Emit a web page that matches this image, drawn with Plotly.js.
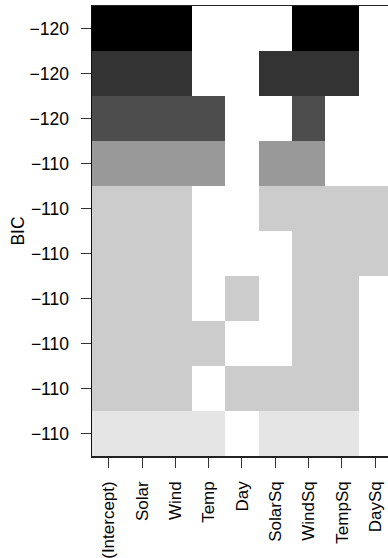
<!DOCTYPE html>
<html>
<head>
<meta charset="utf-8">
<script src="https://cdn.plot.ly/plotly-3.0.1.min.js"></script>
<style>html,body{margin:0;padding:0;background:#fff;}#chart{width:388px;height:558px;}</style>
</head>
<body>
<div id="chart"></div>
<script>
// Variables (columns)
var variables = ["(Intercept)", "Solar", "Wind", "Temp", "Day", "SolarSq", "WindSq", "TempSq", "DaySq"];
// Rounded BIC of each model (rows, top to bottom)
var bic = [-120, -120, -120, -110, -110, -110, -110, -110, -110, -110];
// Shade rank of each row (0 = darkest / best)
var shadeRank = [0, 1, 2, 3, 4, 4, 4, 4, 4, 5];
// Inclusion of each variable in each model
var inclusion = [
  [1,1,1,0,0,0,1,1,0],
  [1,1,1,0,0,1,1,1,0],
  [1,1,1,1,0,0,1,0,0],
  [1,1,1,1,0,1,1,0,0],
  [1,1,1,0,0,1,1,1,1],
  [1,1,1,0,0,0,1,1,1],
  [1,1,1,0,1,0,1,1,0],
  [1,1,1,1,0,0,1,1,0],
  [1,1,1,0,1,1,1,1,0],
  [1,1,1,1,0,1,1,1,0]
];

var greys = ["#000000", "#333333", "#4d4d4d", "#999999", "#cccccc", "#e5e5e5"];
var nShade = greys.length - 1;
var colorscale = greys.map(function (c, i) { return [i / nShade, c]; });

var xIdx = variables.map(function (_, i) { return i; });
var yIdx = bic.map(function (_, i) { return i; });
var z = inclusion.map(function (row, r) {
  return row.map(function (v) { return v ? shadeRank[r] : null; });
});
var yText = bic.map(function (v) { return String(v).replace("-", "\u2212"); });

var fontFam = "'Liberation Sans', Arial, Helvetica, sans-serif";
var plotW = 388 - 92;
var colW = 33.33;

var data = [{
  type: "heatmap",
  x: xIdx,
  y: yIdx,
  z: z,
  zmin: 0,
  zmax: nShade,
  colorscale: colorscale,
  showscale: false,
  hoverinfo: "skip",
  xgap: 0,
  ygap: 0
}];

var layout = {
  width: 388,
  height: 558,
  margin: {l: 92, r: 0, t: 6, b: 102, pad: 0},
  paper_bgcolor: "#ffffff",
  plot_bgcolor: "#ffffff",
  font: {family: fontFam, size: 17.5, color: "#000000"},
  showlegend: false,
  xaxis: {
    range: [-0.5, -0.5 + plotW / colW],
    tickmode: "array",
    tickvals: xIdx,
    ticktext: variables,
    tickangle: -90,
    ticks: "outside",
    ticklen: 10,
    tickwidth: 1,
    tickcolor: "#333333",
    ticklabelstandoff: 7,
    tickfont: {family: fontFam, size: 17, color: "#000000"},
    showline: true,
    mirror: true,
    linecolor: "#222222",
    linewidth: 1.5,
    showgrid: false,
    zeroline: false,
    fixedrange: true
  },
  yaxis: {
    range: [bic.length - 0.5, -0.5],
    tickmode: "array",
    tickvals: yIdx,
    ticktext: yText,
    ticks: "outside",
    ticklen: 10,
    tickwidth: 1,
    tickcolor: "#333333",
    ticklabelstandoff: 8,
    tickfont: {family: fontFam, size: 17.5, color: "#000000"},
    showline: true,
    mirror: false,
    linecolor: "#111111",
    linewidth: 1.5,
    showgrid: false,
    zeroline: false,
    fixedrange: true,
    title: {text: "BIC", font: {family: fontFam, size: 17.5, color: "#000000"}, standoff: 0}
  }
};

Plotly.newPlot("chart", data, layout, {displayModeBar: false, staticPlot: true});
</script>
</body>
</html>
